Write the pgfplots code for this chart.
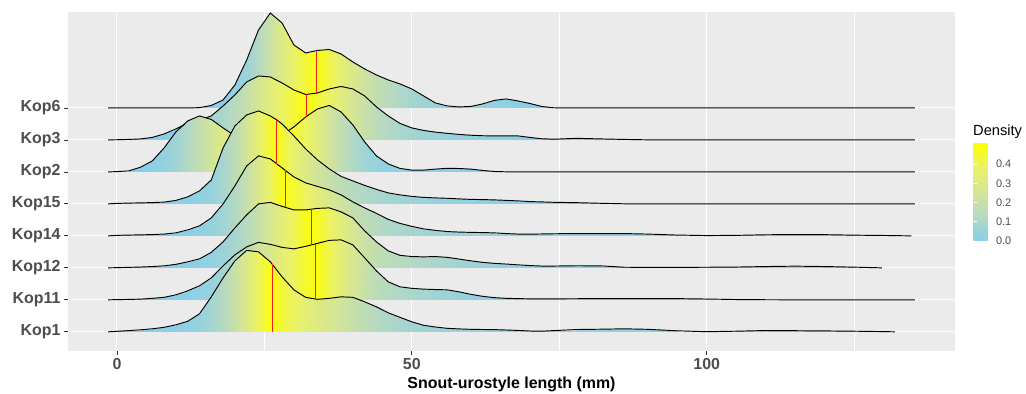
\documentclass[border=0pt]{standalone}
\usepackage{fontspec}
\setmainfont{Liberation Sans}
\usepackage{pgfplots}
\usepackage{pgfplotstable}
\pgfplotsset{compat=1.18}
\definecolor{panelbg}{RGB}{235,235,235}
\definecolor{grey30}{RGB}{77,77,77}
\definecolor{grey20}{RGB}{51,51,51}
\definecolor{medred}{RGB}{240,30,30}

\pgfplotstableread{
x h m
-1.5 0 0
0 0 0
12 0 0
14 0.3 0.0002
16 2.5 0.0016
18 8 0.007
20 23 0.023
22 48 0.060
24 78 0.125
26 95 0.214
28 85 0.307
30 63 0.384
32 55 0.445
33.9 57.4 0.5
34 57.5 0.496
36 58.5 0.422
38 54 0.349
40 46 0.285
42 39 0.230
44 33 0.184
46 28 0.145
48 24 0.111
50 19 0.083
52 12 0.063
54 5 0.053
56 2 0.048
58 1 0.046
60 1.5 0.044
62 4 0.041
64 7.6 0.033
66 9 0.023
68 7 0.0125
70 4.5 0.005
72 1.5 0.001
74 0.2 0
76 0 0
135.3 0 0
}\kopsix

\pgfplotstableread{
x h m
-1.5 0 0
0 0.2 0.0001
2 0.5 0.0005
4 1 0.0013
6 2.5 0.003
8 6 0.0075
10 11 0.0164
12 17 0.031
14 20 0.050
16 24 0.073
18 34 0.104
20 45 0.145
22 58 0.199
24 64 0.263
26 63 0.329
28 57 0.392
30 50 0.448
32 45.5 0.4975
32.1 45.5 0.5
34 47 0.447
36 51 0.388
38 53.5 0.324
40 51 0.261
42 44 0.204
44 33 0.157
46 24 0.123
48 16.5 0.098
50 12 0.081
52 9.5 0.068
54 7.8 0.058
56 6.6 0.049
58 5.5 0.042
60 4.7 0.035
62 4.2 0.030
64 4 0.025
66 4 0.020
68 4 0.0155
70 2.5 0.0115
72 1.2 0.0093
74 0.7 0.0082
78 1.6 0.0058
82 1 0.0027
86 0.5 0.0008
90 0.1 0.0001
95 0 0
135.3 0 0
}\kopthree

\pgfplotstableread{
x h m
-1.5 0 0
0 0.3 0.0002
2 1 0.0009
4 4.7 0.0042
6 11 0.0134
8 24 0.0337
10 40 0.0708
12 51 0.124
14 56 0.186
16 52.5 0.249
18 44 0.305
20 36 0.351
22 31 0.390
24 29.5 0.425
26 31 0.460
28 37 0.5
30 45 0.4525
32 55 0.394
34 63 0.326
36 66.5 0.251
38 60 0.177
40 47 0.115
42 30 0.070
44 16 0.044
46 8 0.030
48 3.5 0.023
50 1.8 0.020
52 1.8 0.018
54 2.8 0.0153
56 3.6 0.0116
58 3.4 0.0075
60 2.8 0.0039
62 1.5 0.0015
64 0.4 0.0003
66 0.1 0.0001
68 0 0
135.3 0 0
}\koptwo

\pgfplotstableread{
x h m
-1.5 0 0
0 0.5 0.0003
2 0.8 0.001
4 1 0.002
6 1.3 0.0033
8 1.8 0.005
10 3.5 0.0079
12 7 0.0137
14 13 0.0248
16 24 0.045
18 56 0.0897
20 78 0.164
22 89 0.2565
24 93 0.357
26 88 0.458
27.1 84 0.5
28 80 0.449
30 68 0.367
32 55 0.299
34 44 0.244
36 35 0.200
38 27.5 0.166
40 23 0.138
42 18.5 0.115
44 14.5 0.096
46 11 0.082
48 9 0.071
50 7.5 0.062
52 6.5 0.054
54 6 0.047
56 5.6 0.041
58 5 0.035
60 4.5 0.030
62 4.3 0.025
64 4 0.020
66 3.5 0.016
68 3 0.0124
70 2.3 0.0095
72 2 0.0071
74 1.6 0.0051
78 1.2 0.0029
82 0.6 0.0009
86 0.1 0.0001
90 0 0
135.3 0 0
}\kopfifteen

\pgfplotstableread{
x h m
-1.5 0 0
0 0.5 0.0003
2 0.8 0.0011
4 1 0.0022
6 1.3 0.0036
8 1.8 0.0056
10 3 0.0085
12 6 0.0141
14 10 0.024
16 18 0.041
18 32 0.072
20 50 0.123
22 70 0.197
24 80 0.290
26 77 0.387
28 68 0.49
30 59 0.452
32 53 0.391
34 49.5 0.335
36 46 0.283
38 41 0.236
40 34 0.195
42 28 0.161
44 22.5 0.134
46 16.5 0.112
48 12.5 0.097
50 9.5 0.085
52 7 0.076
54 5.5 0.069
56 4.3 0.064
58 3.8 0.059
60 3.5 0.055
62 3.3 0.052
64 3 0.048
66 2.3 0.045
68 1.8 0.043
70 1.7 0.041
72 1.9 0.039
74 2.1 0.037
78 2.3 0.033
82 2.2 0.028
86 2.3 0.0235
90 1.8 0.019
95 0.8 0.016
100 0.3 0.0145
105 0.5 0.0134
110 1.1 0.0112
115 1.3 0.0079
120 1.2 0.0046
125 0.7 0.002
130 0.4 0.0005
134.7 0 0
}\kopfourteen

\pgfplotstableread{
x h m
-1.5 0 0
0 0.2 0.0001
2 0.5 0.0005
4 0.8 0.0012
6 1.3 0.0023
8 2 0.0041
10 3.5 0.007
12 6 0.0121
14 9 0.020
16 15.5 0.0334
18 26 0.0557
20 40 0.091
22 53 0.141
24 64 0.204
26 65.5 0.274
28 61.5 0.342
30 58 0.406
32 58 0.488
34 59.5 0.48
36 60 0.396
38 56 0.328
40 50 0.266
42 37 0.215
44 26 0.178
46 17 0.153
48 12.5 0.136
50 11.3 0.122
52 11 0.109
54 11.3 0.096
56 10.5 0.083
58 8.8 0.072
60 7 0.063
62 5.5 0.056
64 4.5 0.050
66 3.8 0.045
68 3 0.041
70 2.3 0.038
72 1.8 0.035
74 1.8 0.033
78 2.1 0.030
82 2 0.025
86 0.6 0.022
90 0.5 0.0207
95 0.5 0.0194
100 0.6 0.0178
105 0.8 0.0157
110 1.3 0.0126
115 1.7 0.0083
120 1.3 0.0039
125 0.7 0.0009
129.7 0 0
}\koptwelve

\pgfplotstableread{
x h m
-1.5 0 0
0 0.2 0.0001
2 0.4 0.0004
4 0.7 0.001
6 1.5 0.0022
8 2.5 0.0043
10 5 0.0082
12 9 0.0156
14 14 0.0277
16 22 0.0467
18 34 0.0762
20 45 0.118
22 53 0.169
24 57.5 0.228
26 55.5 0.287
28 52.5 0.344
30 51 0.399
32 53.5 0.46
34 56.5 0.495
36 59.5 0.4135
38 60 0.339
40 55 0.267
42 42 0.206
44 29 0.161
46 18 0.132
48 13 0.112
50 11.5 0.097
52 10.7 0.083
54 10.3 0.070
56 10 0.057
58 8 0.046
60 5.5 0.0375
62 3.5 0.0319
64 2.2 0.0283
66 1.5 0.026
68 1.2 0.0243
70 1 0.0229
72 1 0.0217
74 1 0.0204
78 1.1 0.0184
82 1.2 0.0155
86 1.3 0.0124
90 1.3 0.0091
95 1.2 0.0056
100 0.8 0.0025
105 0.3 0.0008
110 0.1 0.0002
115 0 0
135.3 0 0
}\kopeleven

\pgfplotstableread{
x h m
-1.5 0 0
0 0.5 0.0003
2 1.2 0.0013
4 2 0.0033
6 3 0.0063
8 4.5 0.0109
10 7 0.0179
12 10.5 0.0285
14 18 0.0459
16 35 0.078
18 54 0.132
20 71 0.208
22 81.5 0.301
24 80 0.398
26 70 0.4886
26.3 67.8 0.5
28 55 0.442
30 42 0.389
32 34.5 0.347
34 32.5 0.310
36 33.5 0.274
38 35 0.237
40 34.5 0.199
42 30 0.163
44 25 0.133
46 19 0.109
48 14.5 0.091
50 10 0.0775
52 6.5 0.0684
54 4.8 0.0623
56 3.5 0.0577
58 2.9 0.0542
60 2.5 0.0513
62 2.3 0.0486
64 2.2 0.0462
66 1.8 0.044
68 1.4 0.0422
70 0.8 0.041
72 0.6 0.0403
74 1.2 0.0393
78 2.3 0.0361
82 2.6 0.0308
86 3 0.0246
90 2.5 0.0186
95 1 0.0145
100 0.1 0.013
105 0.6 0.012
110 1.3 0.0094
115 1.1 0.0061
120 0.9 0.0034
125 0.6 0.0014
130 0.2 0.0003
131.9 0 0
}\kopone

\newcommand\mksurf[2]{\pgfplotstablevertcat{#2}{#1}\pgfplotstablevertcat{#2}{#1}}
\mksurf{\kopsix}{\Skopsix}
\mksurf{\kopthree}{\Skopthree}
\mksurf{\koptwo}{\Skoptwo}
\mksurf{\kopfifteen}{\Skopfifteen}
\mksurf{\kopfourteen}{\Skopfourteen}
\mksurf{\koptwelve}{\Skoptwelve}
\mksurf{\kopeleven}{\Skopeleven}
\mksurf{\kopone}{\Skopone}
\pgfplotstablegetrowsof{\kopsix}\xdef\Nsix{\pgfplotsretval}
\pgfplotstablegetrowsof{\kopthree}\xdef\Nthree{\pgfplotsretval}
\pgfplotstablegetrowsof{\koptwo}\xdef\Ntwo{\pgfplotsretval}
\pgfplotstablegetrowsof{\kopfifteen}\xdef\Nfifteen{\pgfplotsretval}
\pgfplotstablegetrowsof{\kopfourteen}\xdef\Nfourteen{\pgfplotsretval}
\pgfplotstablegetrowsof{\koptwelve}\xdef\Ntwelve{\pgfplotsretval}
\pgfplotstablegetrowsof{\kopeleven}\xdef\Neleven{\pgfplotsretval}
\pgfplotstablegetrowsof{\kopone}\xdef\None{\pgfplotsretval}

% #1 table, #2 surface table, #3 rows, #4 baseline
\newcommand\ridge[4]{%
  \addplot[surf, shader=interp, mesh/rows=2, point meta=\thisrow{m}]
    table[x=x, y expr={#4+(\coordindex>=#3)*\thisrow{h}/32}] {#2};
  \addplot[draw=black, line width=0.95bp, mark=none] table[x=x, y expr={#4+\thisrow{h}/32}] {#1};
}

\begin{document}
\begin{tikzpicture}
\path[use as bounding box] (-68bp,-43bp) rectangle (958bp,351bp);
\begin{axis}[
  at={(0,0)}, anchor=south west,
  scale only axis, width=887bp, height=339bp,
  xmin=-8.3, xmax=142.1, ymin=-0.6, ymax=10.0,
  axis background/.style={fill=panelbg},
  axis line style={draw=none},
  xtick={0,50,100}, minor xtick={25,75,125},
  ytick={0,1,2,3,4,5,6,7},
  yticklabels={Kop1,Kop11,Kop12,Kop14,Kop15,Kop2,Kop3,Kop6},
  xmajorgrids, ymajorgrids, xminorgrids,
  major grid style={white, line width=1.1bp},
  minor grid style={white, line width=0.55bp},
  tick align=outside, xtick pos=left, ytick pos=left,
  major tick length=4bp, minor tick length=0pt,
  tick style={grey20, line width=0.8bp},
  ticklabel style={font=\fontsize{16}{18}\selectfont\bfseries, text=grey30},
  /pgf/number format/assume math mode=true,
  xlabel={Snout-urostyle length (mm)},
  xlabel style={font=\fontsize{16}{18}\selectfont\bfseries, text=black},
  colormap={ridgemap}{rgb255=(135,206,235) rgb255=(181,217,194) rgb255=(212,229,150) rgb255=(235,242,101) rgb255=(255,255,0)},
  point meta min=0, point meta max=0.515,
  colorbar,
  colorbar style={
    at={(parent axis.south west)}, anchor=south west,
    xshift=897bp, yshift=110bp,
    scale only axis, width=19bp, height=99bp,
    axis line style={draw=none},
    axis on top,
    ytick={0,0.1,0.2,0.3,0.4},
    ytick pos=both, yticklabel pos=right,
    tick align=inside,
    major tick length=3.8bp,
    major tick style={white, line width=0.6bp},
    yticklabel style={font=\fontsize{11}{12}\selectfont, text=grey30,
      /pgf/number format/.cd, fixed, fixed zerofill, precision=1, assume math mode=true},
  },
]
\ridge{\kopsix}{\Skopsix}{\Nsix}{7}
\ridge{\kopthree}{\Skopthree}{\Nthree}{6}
\ridge{\koptwo}{\Skoptwo}{\Ntwo}{5}
\ridge{\kopfifteen}{\Skopfifteen}{\Nfifteen}{4}
\ridge{\kopfourteen}{\Skopfourteen}{\Nfourteen}{3}
\ridge{\koptwelve}{\Skoptwelve}{\Ntwelve}{2}
\ridge{\kopeleven}{\Skopeleven}{\Neleven}{1}
\ridge{\kopone}{\Skopone}{\None}{0}
% median lines, visible parts only, drawn last
\addplot[draw=medred, line width=0.9bp, mark=none] coordinates {(33.9,7.466) (33.9,8.794)};
\addplot[draw=medred, line width=0.9bp, mark=none] coordinates {(32.1,6.731) (32.1,7.422)};
\addplot[draw=medred, line width=0.9bp, mark=none] coordinates {(27.1,5.25) (27.1,6.625)};
\addplot[draw=medred, line width=0.9bp, mark=none] coordinates {(28.6,3.89) (28.6,5.047)};
\addplot[draw=medred, line width=0.9bp, mark=none] coordinates {(33,2.72) (33,3.834)};
\addplot[draw=medred, line width=0.9bp, mark=none] coordinates {(33.6,1.028) (33.6,2.747)};
\addplot[draw=medred, line width=0.9bp, mark=none] coordinates {(26.3,0) (26.3,2.119)};
\end{axis}
\node[anchor=base west, font=\fontsize{14.7}{16}\selectfont, inner sep=0pt] at (905bp,215bp) {Density};
\end{tikzpicture}
\end{document}
